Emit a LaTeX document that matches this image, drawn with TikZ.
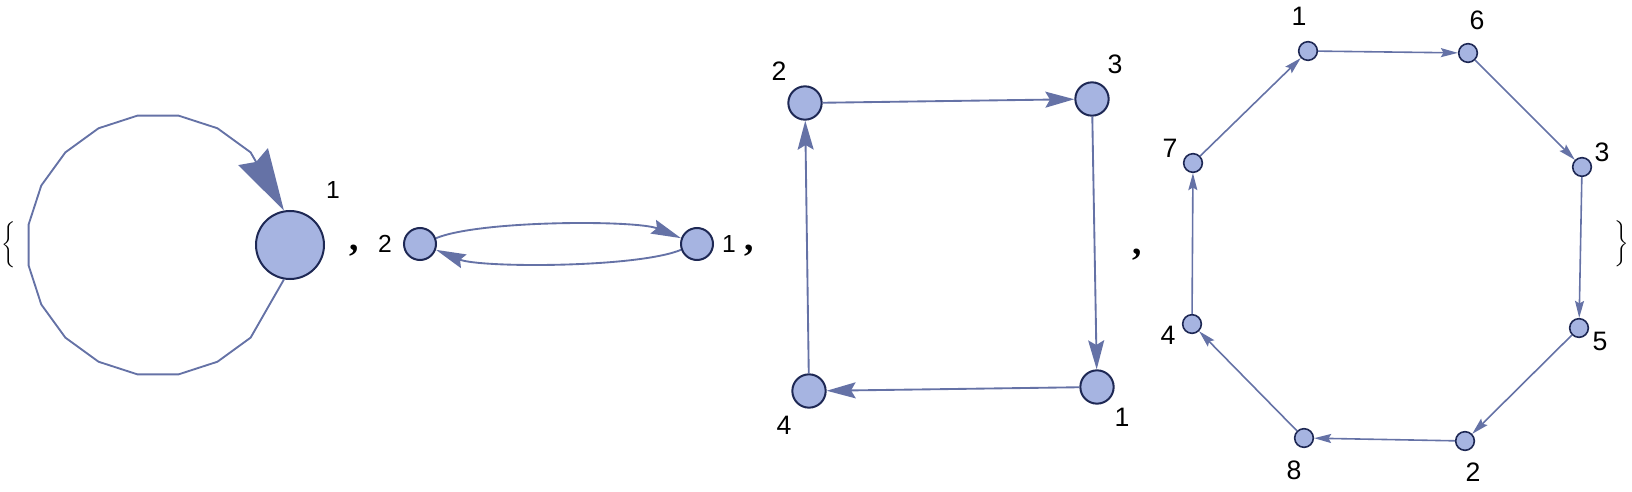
\documentclass[tikz,border=0pt]{standalone}
\usepackage{fontspec}
\usepackage{exscale}
\setmainfont{Liberation Sans}
\newfontfamily\commafont{Liberation Serif}
\usetikzlibrary{arrows.meta}
\definecolor{vfill}{RGB}{166,180,225}
\definecolor{vdraw}{RGB}{30,40,84}
\definecolor{edgec}{RGB}{101,114,166}
\begin{document}
\begin{tikzpicture}[x=0.75pt,y=-0.75pt,
  vtx/.style={circle,fill=vfill,draw=vdraw,line width=1.5pt,inner sep=0pt},
  bigv/.style={vtx,minimum size=51pt},
  midv/.style={vtx,minimum size=25pt},
  smallv/.style={vtx,minimum size=14pt,line width=1.2pt},
  lbl/.style={inner sep=0pt,font=\fontsize{20}{24}\selectfont},
  lbls/.style={inner sep=0pt,font=\fontsize{18.5}{22}\selectfont},
  sep/.style={inner sep=0pt,font=\commafont\bfseries\fontsize{28}{30}\selectfont},
  brace/.style={inner sep=0pt,font=\fontsize{13.5}{16}\selectfont},
  loopedge/.style={draw=edgec,line width=1.4pt,line join=round,
    -{Stealth[length=46.5pt,width=25.5pt,inset=4.5pt]}},
  e2/.style={draw=edgec,line width=1.4pt,-{Stealth[length=22.5pt,width=11pt,inset=3pt]}},
  e3/.style={draw=edgec,line width=1.4pt,-{Stealth[length=21.75pt,width=12pt,inset=3.5pt]}},
  e4/.style={draw=edgec,line width=1.2pt,-{Stealth[length=12.75pt,width=6.75pt,inset=2pt]}}]
\useasboundingbox (0,0) rectangle (1632,492);

% braces and separators
\node[brace] (lb) at (10,245) {$\left\{\vcenter{\hbox{\rule{0pt}{38pt}}}\right.$};
\node[brace] (rb) at (1621,244) {$\left.\vcenter{\hbox{\rule{0pt}{38pt}}}\right\}$};
\node[sep] (s1) at (354,251) {,};
\node[sep] (s2) at (749,251) {,};
\node[sep] (s3) at (1137,255) {,};

% panel 1
\foreach \i in {0,...,15}
  \path (158,245) ++({45+18*\i}:131) coordinate (L\i);
\node[bigv] (a1) at (290,245) {};
\node[lbls] (la1) at (333,190) {1};
\draw[loopedge] (a1.-100) -- (L0) -- (L1) -- (L2) -- (L3) -- (L4) -- (L5) -- (L6) -- (L7)
  -- (L8) -- (L9) -- (L10) -- (L11) -- (L12) -- (L13) -- (L14) -- (L15) -- (a1.100);

% panel 2
\node[midv,minimum size=24pt] (b2) at (420,244) {};
\node[midv,minimum size=24pt] (b1) at (697,244) {};
\node[lbls] (lb2) at (385,244) {2};
\node[lbls] (lb1) at (729,244) {1};
\draw[e2] (b2.20) .. controls (480,220) and (637,220) .. (b1.160);
\draw[e2] (b1.200) .. controls (637,268) and (480,268) .. (b2.-20);

% panel 3
\node[midv] (c2) at (805,103) {};
\node[midv] (c3) at (1092,99) {};
\node[midv] (c1) at (1097,387) {};
\node[midv] (c4) at (809,391) {};
\node[lbl] (lc2) at (779,71) {2};
\node[lbl] (lc3) at (1115,64) {3};
\node[lbl] (lc1) at (1122,417) {1};
\node[lbl] (lc4) at (784,425) {4};
\draw[e3] (c2) -- (c3);
\draw[e3] (c3) -- (c1);
\draw[e3] (c1) -- (c4);
\draw[e3] (c4) -- (c2);

% panel 4
\node[smallv] (d1) at (1308,51) {};
\node[smallv] (d6) at (1468,53) {};
\node[smallv] (d3) at (1582,167) {};
\node[smallv] (d5) at (1579,328) {};
\node[smallv] (d2) at (1465,441) {};
\node[smallv] (d8) at (1304,438) {};
\node[smallv] (d4) at (1192,324) {};
\node[smallv] (d7) at (1193,163) {};
\node[lbl] (ld1) at (1299,16) {1};
\node[lbl] (ld6) at (1477,20) {6};
\node[lbl] (ld7) at (1170,148) {7};
\node[lbl] (ld3) at (1602,152) {3};
\node[lbl] (ld4) at (1168,335) {4};
\node[lbl] (ld5) at (1600,341) {5};
\node[lbl] (ld8) at (1294,470) {8};
\node[lbl] (ld2) at (1473,472) {2};
\draw[e4] (d7) -- (d1);
\draw[e4] (d1) -- (d6);
\draw[e4] (d6) -- (d3);
\draw[e4] (d3) -- (d5);
\draw[e4] (d5) -- (d2);
\draw[e4] (d2) -- (d8);
\draw[e4] (d8) -- (d4);
\draw[e4] (d4) -- (d7);
\end{tikzpicture}
\end{document}
